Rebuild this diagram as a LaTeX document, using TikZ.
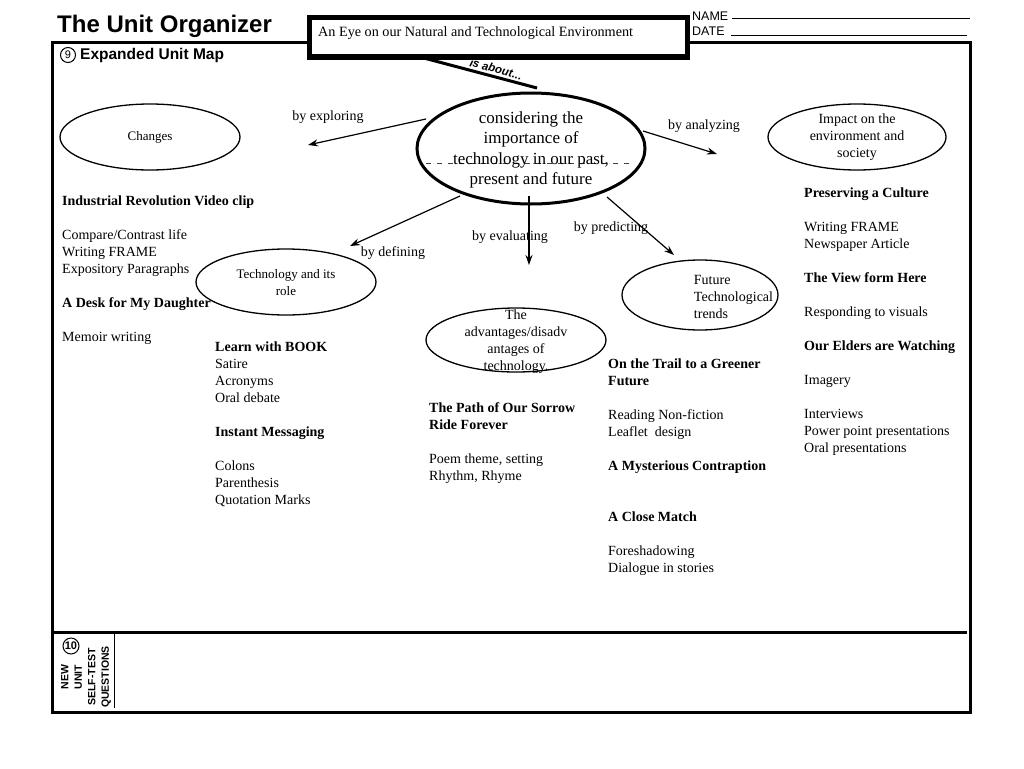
\documentclass[tikz,border=0pt]{standalone}
\usepackage{fontspec}
\setmainfont{Liberation Serif}
\setsansfont{Liberation Sans}
\usetikzlibrary{shapes.geometric,arrows.meta}
\begin{document}
\begin{tikzpicture}[x=1pt,y=-1pt,
 bubble/.style={draw, ellipse, line width=1.3pt, inner sep=0pt},
 btext/.style={inner sep=0pt, align=center, font=\fontsize{13}{16.5}\selectfont},
 col/.style={anchor=north west, inner sep=0pt, align=left, font=\fontsize{14}{17}\selectfont},
 lbl/.style={inner sep=0pt, font=\fontsize{14}{16}\selectfont},
 link/.style={line width=1.2pt, -{Stealth[length=10pt,width=7pt]}},
 frame/.style={line width=3pt}]
\useasboundingbox (0,0) rectangle (1024,768);
\fill[white] (0,0) rectangle (1024,768);

% main frame
\draw[frame] (52,43) rectangle (970,712);
\draw[frame] (52,632) -- (967,632);
\draw[line width=1pt] (114,633) -- (114,708);

% title
\node[anchor=base west, inner sep=0pt, font=\sffamily\bfseries\fontsize{24}{28}\selectfont] (title) at (57,33) {The Unit Organizer};

% title box
\node[draw, fill=white, line width=5pt, minimum width=378pt, minimum height=39pt, inner sep=0pt,
      anchor=north west] (topic) at (307,15.5) {};
\node[anchor=west, inner sep=0pt, font=\fontsize{14.2}{16}\selectfont] (topictext) at (318,33)
  {An Eye on our Natural and Technological Environment};

% name / date
\node[anchor=base west, inner sep=0pt, font=\sffamily\fontsize{12.5}{14}\selectfont] (name) at (692,21) {NAME};
\node[anchor=base west, inner sep=0pt, font=\sffamily\fontsize{12.5}{14}\selectfont] (date) at (692,36) {DATE};
\coordinate (nameend) at (970,18);
\coordinate (dateend) at (967,35.5);
\draw[line width=0.9pt] (name.base east) ++(3,-3) -- (nameend);
\draw[line width=0.9pt] (date.base east) ++(6,-0.5) -- (dateend);

% section 9
\node[draw, circle, line width=1pt, minimum size=15pt, inner sep=0pt, font=\sffamily\fontsize{11}{12}\selectfont] (nine) at (68,55) {9};
\node[anchor=west, inner sep=0pt, font=\sffamily\bfseries\fontsize{15.5}{18}\selectfont] (sec9) at (80,55) {Expanded Unit Map};

% is about
\coordinate (aboutstart) at (420,57);
\coordinate (aboutend) at (537,88);
\draw[line width=3pt] (aboutstart) -- (aboutend);
\node[rotate=-15, inner sep=0pt, font=\sffamily\bfseries\itshape\fontsize{11.5}{13}\selectfont] (about) at (496,69) {is about...};

% dashed line
\coordinate (dashA) at (426,163);
\coordinate (dashB) at (630,163);
\draw[line width=0.9pt, dash pattern=on 5pt off 6pt, black!75] (dashA) -- (dashB);

% central
\node[draw, ellipse, line width=3pt, minimum width=228pt, minimum height=111pt, inner sep=0pt] (main) at (531,148.5) {};
\node[inner sep=0pt, align=center, font=\fontsize{17}{20.5}\selectfont] (maintext) at (531,150)
  {considering the\\importance of\\technology in our past,\\present and future};

% bubbles
\node[bubble, minimum width=180pt, minimum height=66pt] (changes) at (150,137) {};
\node[btext] (changestext) at (changes) {Changes};

\node[bubble, minimum width=178pt, minimum height=66pt] (impact) at (857,137) {};
\node[btext, font=\fontsize{14}{17}\selectfont] (impacttext) at (857,137.5) {Impact on the\\environment and\\society};

\node[bubble, minimum width=180pt, minimum height=66pt] (techrole) at (286,282) {};
\node[btext] (techroletext) at (286,282.5) {Technology and its\\role};

\node[bubble, minimum width=180pt, minimum height=64pt] (adv) at (516,340) {};
\node[btext, font=\fontsize{14}{17}\selectfont] (advtext) at (516,342) {The\\advantages/disadv\\antages of\\technology.};

\node[bubble, minimum width=156pt, minimum height=70pt] (future) at (700,295) {};
\node[btext, align=left, font=\fontsize{14}{17}\selectfont] (futuretext) at (733.5,296.5) {Future\\Technological\\trends};

% arrows
\coordinate (e1s) at (426,119); \coordinate (e1e) at (308,145);
\coordinate (e2s) at (643,131); \coordinate (e2e) at (717,154);
\coordinate (e3s) at (460,196); \coordinate (e3e) at (350,246);
\coordinate (e4s) at (529,196); \coordinate (e4e) at (529,265);
\coordinate (e5s) at (607,197); \coordinate (e5e) at (674,255);
\draw[link] (e1s) -- (e1e);
\draw[link] (e2s) -- (e2e);
\draw[link] (e3s) -- (e3e);
\draw[link] (e4s) -- (e4e);
\draw[link] (e5s) -- (e5e);
\node[lbl] (l1) at (328,117) {by exploring};
\node[lbl] (l2) at (704,126) {by analyzing};
\node[lbl] (l3) at (393,253) {by defining};
\node[lbl] (l4) at (510,237) {by evaluating};
\node[lbl] (l5) at (611,228) {by predicting};

% columns
\node[col] (colA) at (62,196) {\textbf{Industrial Revolution Video clip}\\[17pt]
Compare/Contrast life\\Writing FRAME\\Expository Paragraphs\\[17pt]
\textbf{A Desk for My Daughter}\\[17pt]
Memoir writing};

\node[col] (colB) at (215,342) {\textbf{Learn with BOOK}\\Satire\\Acronyms\\Oral debate\\[17pt]
\textbf{Instant Messaging}\\[17pt]
Colons\\Parenthesis\\Quotation Marks};

\node[col] (colC) at (429,402) {\textbf{The Path of Our Sorrow}\\\textbf{Ride Forever}\\[17pt]
Poem theme, setting\\Rhythm, Rhyme};

\node[col] (colD) at (608,359) {\textbf{On the Trail to a Greener}\\\textbf{Future}\\[17pt]
Reading Non-fiction\\Leaflet\ \ design\\[17pt]
\textbf{A Mysterious Contraption}\\[34pt]
\textbf{A Close Match}\\[17pt]
Foreshadowing\\Dialogue in stories};

\node[col] (colE) at (804,188) {\textbf{Preserving a Culture}\\[17pt]
Writing FRAME\\Newspaper Article\\[17pt]
\textbf{The View form Here}\\[17pt]
Responding to visuals\\[17pt]
\textbf{Our Elders are Watching}\\[17pt]
Imagery\\[17pt]
Interviews\\Power point presentations\\Oral presentations};

% section 10
\node[draw, circle, line width=1pt, minimum size=16pt, inner sep=0pt, font=\sffamily\bfseries\fontsize{11}{12}\selectfont] (ten) at (71,646) {10};
\node[rotate=90, inner sep=0pt, align=center, font=\sffamily\bfseries\fontsize{10.5}{13.5}\selectfont] (sec10) at (86,677)
  {NEW\\UNIT\\SELF-TEST\\QUESTIONS};
\end{tikzpicture}
\end{document}
